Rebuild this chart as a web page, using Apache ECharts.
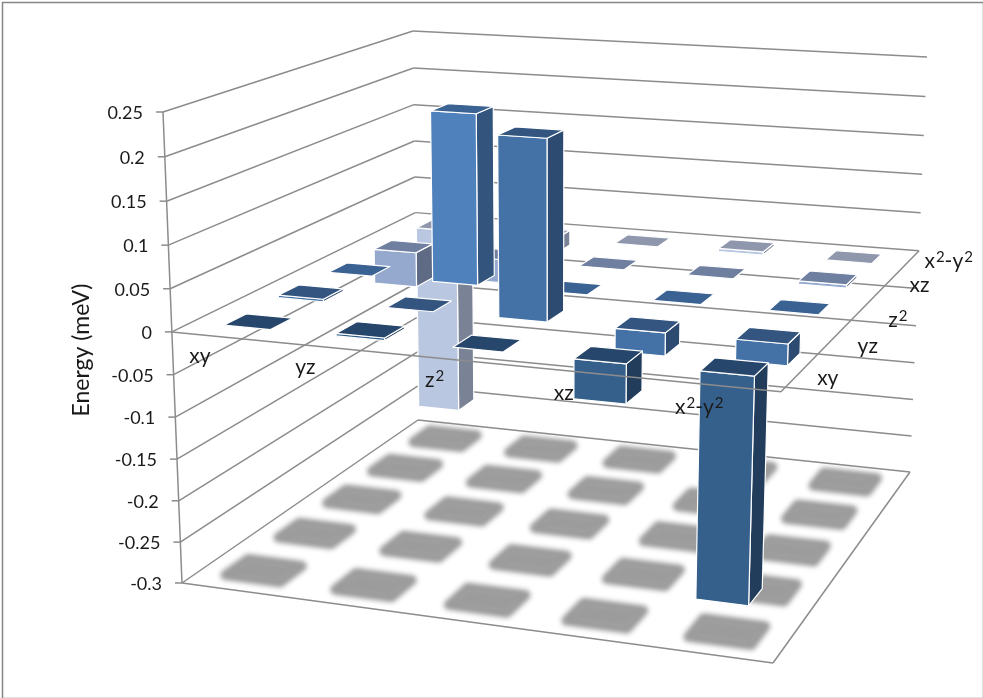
<!DOCTYPE html>
<html>
<head>
<meta charset="utf-8">
<style>
  html, body { margin: 0; padding: 0; background: #fff; }
  #main { width: 983px; height: 698px; }
</style>
</head>
<body>
<div id="main"></div>
<script src="https://cdn.jsdelivr.net/npm/echarts@6/dist/echarts.min.js"></script>
<script>
// data
const orbitals = ["xy", "yz", "z²", "xz", "x²-y²"];
const valueTicks = [0.25, 0.2, 0.15, 0.1, 0.05, 0, -0.05, -0.1, -0.15, -0.2, -0.25, -0.3];
const rowXy = [0, 0.003, 0, -0.045, -0.258];
const rowYz = [0.003, 0, 0.213, -0.027, -0.025];
const rowZ2 = [0, 0.21, 0, 0, 0];
const rowXz = [-0.045, -0.03, 0, 0, 0.004];
const rowX2y2 = [-0.25, -0.02, 0, 0.004, 0];
const rows = [rowXy, rowYz, rowZ2, rowXz, rowX2y2];

// colours of each depth row
const rowColors = [
  { top: "#27466b", front: "#36608c", side: "#223d5c" },
  { top: "#335580", front: "#4472a6", side: "#2d4a70" },
  { top: "#3a6293", front: "#4f81bd", side: "#33547c" },
  { top: "#6f7f9f", front: "#95a9cf", side: "#5f6b85" },
  { top: "#8f97ad", front: "#b9c7e0", side: "#7a8295" },
];
const lineColor = "#8c8c8c";
const font = "Lato";

// corners of the box on screen: front-left, front-right, back-right, back-left
const floorCorners = [[182, 583], [773, 663], [910, 472], [418, 420]];
const ceilCorners = [[163, 112], [788, 154], [927, 57], [413, 31]];
const depthScale = 1.051;

// the label placement in the original is a little irregular
const frontNudge = [[3, 0], [-9, -1], [-2, 0], [0, 0], [3, 0]];
const sideNudge = [[-9, -4], [1, -4], [4, 0], [0, -8], [-8, -7]];

function homography(q) {
  const dx1 = q[1][0] - q[2][0], dx2 = q[3][0] - q[2][0], sx = q[0][0] - q[1][0] + q[2][0] - q[3][0];
  const dy1 = q[1][1] - q[2][1], dy2 = q[3][1] - q[2][1], sy = q[0][1] - q[1][1] + q[2][1] - q[3][1];
  const den = dx1 * dy2 - dx2 * dy1;
  const g = (sx * dy2 - dx2 * sy) / den, h = (dx1 * sy - sx * dy1) / den;
  const a = q[1][0] - q[0][0] + g * q[1][0], b = q[3][0] - q[0][0] + h * q[3][0];
  const d = q[1][1] - q[0][1] + g * q[1][1], e = q[3][1] - q[0][1] + h * q[3][1];
  return function (u, v) {
    const w = g * u + h * v + 1;
    return [(a * u + b * v + q[0][0]) / w, (d * u + e * v + q[0][1]) / w];
  };
}
const floorMap = homography(floorCorners);
const ceilMap = homography(ceilCorners);

function project(u, v, w) {
  const p = floorMap(u, v), t = ceilMap(u, v);
  return [p[0] + (t[0] - p[0]) * w, p[1] + (t[1] - p[1]) * w];
}

// height in the box for a value, taken from the (hidden) value axis
function levelOf(api, sys, val) {
  const t = 1 - (api.coord([0, val])[1] - sys.y) / sys.height;
  return t / (t + depthScale * (1 - t));
}
function columnOf(api, sys, i) {
  return (api.coord([i, 0])[0] - sys.x) / sys.width;
}
function line(a, b, width) {
  return {
    type: "line",
    shape: { x1: a[0], y1: a[1], x2: b[0], y2: b[1] },
    style: { stroke: lineColor, lineWidth: width || 1.5 },
  };
}
function poly(points, fill) {
  return {
    type: "polygon",
    shape: { points: points },
    style: { fill: fill, stroke: "#fff", lineWidth: 1.2, lineJoin: "round" },
  };
}

const barData = [];
for (let d = rows.length - 1; d >= 0; d--) {
  rows[d].forEach(function (val, i) {
    barData.push([i, d, val]);
  });
}
const shadowData = barData.map(function (b) { return [b[0], b[1]]; });

// walls, ticks and value labels
function renderWalls(params, api) {
  const sys = params.coordSys;
  const val = api.value(0);
  const w = levelOf(api, sys, val);
  const fl = project(0, 0, w), bl = project(0, 1, w), br = project(1, 1, w);
  return {
    type: "group",
    children: [
      line(fl, bl),
      line(bl, br),
      line(fl, [fl[0] - 7, fl[1]]),
      {
        type: "text",
        style: {
          text: String(val), x: fl[0] - 20, y: fl[1] + 1,
          align: "right", verticalAlign: "middle",
          font: "18px " + font, fill: "#1a1a1a",
        },
      },
    ],
  };
}

function renderFloor(params, api) {
  const c = floorCorners;
  return {
    type: "group",
    children: [
      line(c[0], c[1]), line(c[1], c[2]),
      line(ceilCorners[0], c[0]),
    ],
  };
}

// the shape itself sits off the canvas so only its blurred shadow shows
function renderShadow(params, api) {
  const sys = params.coordSys;
  const u = columnOf(api, sys, api.value(0));
  const v = (api.value(1) + 0.5) / rows.length;
  const hu = 0.05, hv = 0.042;
  return {
    type: "polygon",
    x: -2000,
    shape: {
      points: [
        floorMap(u - hu, v - hv), floorMap(u + hu, v - hv),
        floorMap(u + hu, v + hv), floorMap(u - hu, v + hv),
      ],
    },
    style: {
      fill: "#9c9c9c", stroke: "#9c9c9c", lineWidth: 10, lineJoin: "round",
      shadowBlur: 5, shadowColor: "#9c9c9c", shadowOffsetX: 2000,
    },
  };
}

function renderBar(params, api) {
  const sys = params.coordSys;
  const u = columnOf(api, sys, api.value(0));
  const d = api.value(1);
  const val = api.value(2);
  const v = (d + 0.5) / rows.length + 0.008;
  const hu = 0.042, hv = 0.04;
  const colors = rowColors[d];
  const zero = levelOf(api, sys, 0), lvl = levelOf(api, sys, val);
  const hi = Math.max(zero, lvl), lo = Math.min(zero, lvl);
  const faces = [];
  if (val !== 0) {
    faces.push(poly([
      project(u + hu, v - hv, lo), project(u + hu, v + hv, lo),
      project(u + hu, v + hv, hi), project(u + hu, v - hv, hi),
    ], colors.side));
    faces.push(poly([
      project(u - hu, v - hv, lo), project(u + hu, v - hv, lo),
      project(u + hu, v - hv, hi), project(u - hu, v - hv, hi),
    ], colors.front));
  }
  faces.push(poly([
    project(u - hu, v - hv, hi), project(u + hu, v - hv, hi),
    project(u + hu, v + hv, hi), project(u - hu, v + hv, hi),
  ], colors.top));
  return { type: "group", children: faces };
}

// z = 0 edges and orbital labels sit above the bars
function renderZeroPlane(params, api) {
  const sys = params.coordSys;
  const zero = levelOf(api, sys, 0);
  const children = [
    line(project(0, 0, zero), project(1, 0, zero)),
    line(project(1, 0, zero), project(1, 1, zero)),
  ];
  const richStyle = {
    s: { fontSize: 15, fontFamily: font, fill: "#1a1a1a", padding: [0, 0, 8, 1] },
  };
  orbitals.forEach(function (name, i) {
    const text = name.replace(/²/g, "{s|2}");
    const u = (i + 0.5) / orbitals.length;
    const a = project(u - 0.01, -0.13, zero);
    children.push({
      type: "text",
      style: {
        text: text, x: a[0] + 14 + frontNudge[i][0], y: a[1] - 1 + frontNudge[i][1],
        align: "center", verticalAlign: "middle",
        font: "21px " + font, fill: "#1a1a1a", rich: richStyle,
      },
    });
    const b = project(1.05, u - 0.03, zero);
    children.push({
      type: "text",
      style: {
        text: text, x: b[0] + sideNudge[i][0], y: b[1] + sideNudge[i][1],
        align: "left", verticalAlign: "middle",
        font: "21px " + font, fill: "#1a1a1a", rich: richStyle,
      },
    });
  });
  return { type: "group", children: children };
}

const chart = echarts.init(document.getElementById("main"));
chart.setOption({
  animation: false,
  backgroundColor: "#fff",
  grid: { left: 0, right: 0, top: 0, bottom: 0 },
  xAxis: { type: "category", data: orbitals, show: false },
  yAxis: { type: "value", min: -0.3, max: 0.25, interval: 0.05, show: false },
  graphic: [
    {
      type: "rect", left: 0, top: 0, silent: true, z: 100,
      shape: { x: 0, y: 0, width: 981, height: 696 },
      position: [1, 1],
      style: { fill: "none", stroke: "#868686", lineWidth: 1.5 },
    },
    {
      type: "text", x: 82, y: 350, rotation: Math.PI / 2, z: 100,
      style: {
        text: "Energy (meV)", font: "23px " + font, fill: "#1a1a1a",
        align: "center", verticalAlign: "middle",
      },
    },
  ],
  series: [
    { type: "custom", data: valueTicks.map(function (v) { return [v]; }), renderItem: renderWalls, clip: false, silent: true, z: 1 },
    { type: "custom", data: [[0]], renderItem: renderFloor, clip: false, silent: true, z: 2 },
    { type: "custom", data: shadowData, renderItem: renderShadow, clip: false, silent: true, z: 3 },
    { type: "custom", data: barData, renderItem: renderBar, clip: false, silent: true, z: 4 },
    { type: "custom", data: [[0]], renderItem: renderZeroPlane, clip: false, silent: true, z: 5 },
  ],
});
</script>
</body>
</html>
